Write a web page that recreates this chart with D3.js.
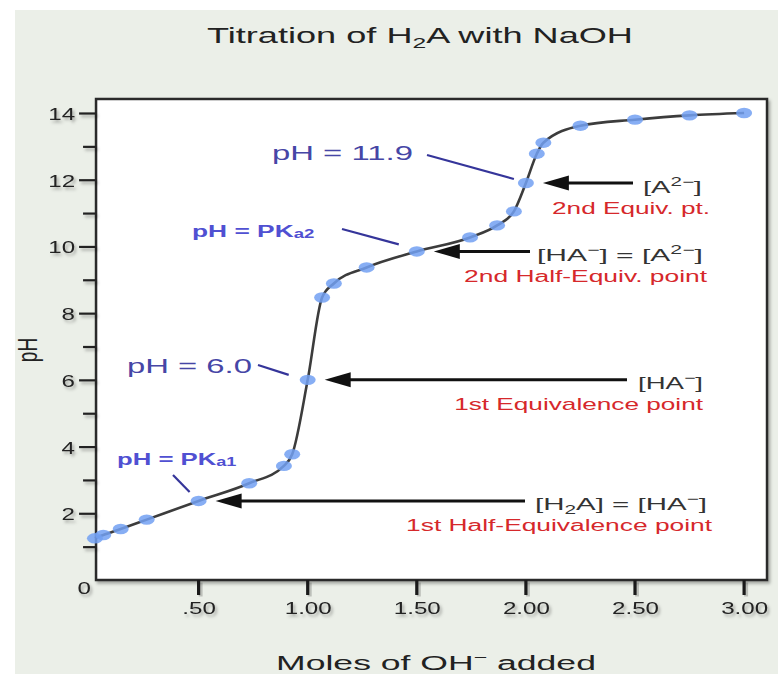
<!DOCTYPE html>
<html>
<head>
<meta charset="utf-8">
<script src="https://cdn.jsdelivr.net/npm/d3@7"></script>
<style>
  html, body { margin: 0; padding: 0; background: #fff; }
  svg { display: block; font-family: "Liberation Sans", Arial, Helvetica, sans-serif; }
</style>
</head>
<body>
<svg id="chart" width="778" height="674"></svg>
<script>
// Titration curve of a diprotic acid H2A with NaOH
const molesOH  = [0.025, 0.063, 0.143, 0.262, 0.5, 0.732, 0.891, 0.929, 1.0, 1.066, 1.12, 1.27, 1.5, 1.744, 1.868, 1.945, 2.0, 2.05, 2.08, 2.25, 2.5, 2.75, 3.0];
const pHValues = [1.25, 1.35, 1.53, 1.81, 2.37, 2.9, 3.42, 3.77, 6.0, 8.47, 8.89, 9.37, 9.85, 10.27, 10.63, 11.05, 11.9, 12.78, 13.11, 13.62, 13.8, 13.93, 14.0];

const yMajorTicks = [0, 2, 4, 6, 8, 10, 12, 14];
const yTickLabels = ["0", "2", "4", "6", "8", "10", "12", "14"];
const yMinorTicks = [1, 3, 5, 7, 9, 11, 13];
const xTickValues = [0.5, 1.0, 1.5, 2.0, 2.5, 3.0];
const xTickLabels = [".50", "1.00", "1.50", "2.00", "2.50", "3.00"];

// indices of the points that the black arrows point at
const arrowPointIdx = [4, 8, 12, 16];
// indices of the points that the blue callouts point at
const calloutPointIdx = [4, 8, 12, 16];

const svg = d3.select("#chart");

// soft drop shadow; a generous user-space region so thin tick lines keep it
const defs = svg.append("defs");
defs.append("filter").attr("id", "shadow")
  .attr("filterUnits", "userSpaceOnUse")
  .attr("x", -400).attr("y", -800).attr("width", 1600).attr("height", 1800)
  .append("feDropShadow")
  .attr("dx", 2).attr("dy", 2.5).attr("stdDeviation", 1.5)
  .attr("flood-color", "#000").attr("flood-opacity", 0.3);

// page background
svg.append("rect").attr("x", 15).attr("y", 10).attr("width", 763).attr("height", 664)
  .attr("fill", "#ebefe8");

const x = d3.scaleLinear().domain([0, 3]).range([89.5, 744.1]);
const y = d3.scaleLinear().domain([0, 14]).range([580, 113]);

const frame = { left: x(0.03), right: x(3.105), top: y(14.42), bottom: y(0) };

// horizontally stretched text, fitted to a given width
function fitText(parent, o, build) {
  const g = parent.append("g");
  const t = g.append("text")
    .attr("text-anchor", o.anchor || "start")
    .attr("font-size", o.size)
    .attr("font-weight", o.weight || "normal")
    .attr("fill", o.fill || "#222");
  build(t);
  const w = t.node().getBBox().width;
  const sx = o.width ? o.width / w : 1;
  g.attr("transform", `translate(${o.x},${o.y}) scale(${sx},1)`);
  return g;
}
function sup(t, s, size, shift) {
  t.append("tspan").attr("font-size", size).attr("dy", -shift).text(s);
}
function back(t, s, shift) {
  t.append("tspan").attr("dy", shift).text(s);
}

// plot frame
svg.append("rect")
  .attr("x", frame.left).attr("y", frame.top)
  .attr("width", frame.right - frame.left).attr("height", frame.bottom - frame.top)
  .attr("fill", "#fff").attr("stroke", "#2a2a2a").attr("stroke-width", 2.5)
  .attr("filter", "url(#shadow)");

// y axis: labelled major ticks and short minor ticks
const yAxis = svg.append("g").attr("transform", `translate(${frame.left},0)`)
  .attr("filter", "url(#shadow)")
  .call(d3.axisLeft(y).tickValues(yMajorTicks).tickSize(17).tickPadding(4)
    .tickFormat((d, i) => yTickLabels[i]));
yAxis.select(".domain").remove();
yAxis.selectAll(".tick line").attr("stroke", "#222").attr("stroke-width", 2.2)
  .filter(d => d === 0).remove();
yAxis.selectAll(".tick text")
  .attr("font-size", 17).attr("font-family", "Liberation Sans, Arial, sans-serif")
  .attr("fill", "#222").attr("x", 0)
  .attr("transform", d => d === 0 ? "translate(-5,8) scale(1.42,1)" : "translate(-21,1) scale(1.42,1)");

const yMinor = svg.append("g").attr("transform", `translate(${frame.left},0)`)
  .attr("filter", "url(#shadow)")
  .call(d3.axisLeft(y).tickValues(yMinorTicks).tickSize(13).tickFormat(""));
yMinor.select(".domain").remove();
yMinor.selectAll(".tick line").attr("stroke", "#222").attr("stroke-width", 2.2);

// x axis labels
const xAxis = svg.append("g").attr("transform", `translate(0,${frame.bottom})`)
  .attr("filter", "url(#shadow)")
  .call(d3.axisBottom(x).tickValues(xTickValues).tickSize(14).tickPadding(8)
    .tickFormat((d, i) => xTickLabels[i]));
xAxis.select(".domain").remove();
xAxis.selectAll(".tick line").remove();
xAxis.selectAll(".tick text")
  .attr("font-size", 17).attr("font-family", "Liberation Sans, Arial, sans-serif")
  .attr("fill", "#222").attr("x", 0)
  .attr("transform", "scale(1.42,1)");

// titration curve
const pts = molesOH.map((m, i) => [m, pHValues[i]]);
svg.append("path")
  .datum(pts)
  .attr("fill", "none").attr("stroke", "#3c3c3c").attr("stroke-width", 2.6)
  .attr("d", d3.line().x(d => x(d[0])).y(d => y(d[1])).curve(d3.curveMonotoneX));

svg.append("g").selectAll("ellipse")
  .data(pts).join("ellipse")
  .attr("cx", d => x(d[0])).attr("cy", d => y(d[1]))
  .attr("rx", 8).attr("ry", 5.2)
  .attr("fill", "#72a0f2").attr("fill-opacity", 0.85);

// title and axis titles
fitText(svg, { x: 420, y: 43, anchor: "middle", size: 22, width: 426, fill: "#222" }, t => {
  t.append("tspan").text("Titration of H");
  t.append("tspan").attr("font-size", 15).attr("dy", 5).text("2");
  t.append("tspan").attr("dy", -5).text("A with NaOH");
});

fitText(svg, { x: 436, y: 670, anchor: "middle", size: 20, width: 320, fill: "#222" }, t => {
  t.append("tspan").text("Moles of OH");
  sup(t, "\u2212", 13, 8);
  back(t, " added", 8);
});

{
  const g = svg.append("g").attr("transform", "translate(37,350) rotate(-90)");
  g.append("text").attr("text-anchor", "middle").attr("font-size", 19).attr("fill", "#222")
    .attr("transform", "scale(1,1.45)").text("pH");
}

// black arrows with bracket labels and red captions
const arrowTail = [525, 627, 530, 633];
const bracketX  = [535, 638, 537, 643];
const captionX  = [712, 703, 707, 710];
const bracketW  = [172, 65, 166, 59];
const captionW  = [307, 250, 244, 158];
const captions  = ["1st Half-Equivalence point", "1st Equivalence point", "2nd Half-Equiv. point", "2nd Equiv. pt."];
const bracketBuilders = [
  t => { t.append("tspan").text("[H"); t.append("tspan").attr("font-size", 12).attr("dy", 4).text("2");
         t.append("tspan").attr("dy", -4).text("A] = [HA"); sup(t, "\u2212", 12, 7); back(t, "]", 7); },
  t => { t.append("tspan").text("[HA"); sup(t, "\u2212", 12, 7); back(t, "]", 7); },
  t => { t.append("tspan").text("[HA"); sup(t, "\u2212", 12, 7); back(t, "] = [A", 7);
         sup(t, "2\u2212", 12, 7); back(t, "]", 7); },
  t => { t.append("tspan").text("[A"); sup(t, "2\u2212", 12, 7); back(t, "]", 7); }
];

arrowPointIdx.forEach((pi, k) => {
  const tipX = x(molesOH[pi]) + 17;
  const ay = y(pHValues[pi]);
  svg.append("line")
    .attr("x1", tipX + 20).attr("x2", arrowTail[k])
    .attr("y1", ay).attr("y2", ay)
    .attr("stroke", "#111").attr("stroke-width", 3);
  svg.append("path")
    .attr("d", `M${tipX},${ay} L${tipX + 26},${ay - 7.5} L${tipX + 26},${ay + 7.5} Z`)
    .attr("fill", "#111");
  fitText(svg, { x: bracketX[k], y: ay + 9.5, size: 17, width: bracketW[k], fill: "#333" }, bracketBuilders[k]);
  fitText(svg, { x: captionX[k], y: ay + 30.5, anchor: "end", size: 16, width: captionW[k], fill: "#d6282b" },
    t => t.text(captions[k]));
});

// blue callouts with leader lines
const calloutLabelPos = [[117, 465], [127, 373], [192, 237], [272, 160]];
const calloutLeaderStart = [[173, 475], [258, 365], [342, 229], [427, 155]];
const calloutLeaderOffset = [[-9, -9], [-19, -5], [-18, -7], [-12, -4]];
const calloutW = [120, 125, 123, 141];
const calloutBuilders = [
  t => { t.append("tspan").text("pH = PK"); t.append("tspan").attr("font-size", 12).attr("dy", 1).text("a1"); },
  t => t.text("pH = 6.0"),
  t => { t.append("tspan").text("pH = PK"); t.append("tspan").attr("font-size", 12).attr("dy", 1).text("a2"); },
  t => t.text("pH = 11.9")
];
const calloutBold = [true, false, true, false];

calloutPointIdx.forEach((pi, k) => {
  const px = x(molesOH[pi]), py = y(pHValues[pi]);
  svg.append("line")
    .attr("x1", calloutLeaderStart[k][0]).attr("y1", calloutLeaderStart[k][1])
    .attr("x2", px + calloutLeaderOffset[k][0]).attr("y2", py + calloutLeaderOffset[k][1])
    .attr("stroke", "#35359a").attr("stroke-width", 2.2);
  fitText(svg, {
    x: calloutLabelPos[k][0], y: calloutLabelPos[k][1],
    size: calloutBold[k] ? 17 : 21, weight: calloutBold[k] ? "bold" : "normal",
    width: calloutW[k], fill: calloutBold[k] ? "#5050d2" : "#4646a6"
  }, calloutBuilders[k]);
});

// x tick marks below the frame, drawn last so nothing sits over them
const xTickMarks = svg.append("g").attr("class", "x-ticks");
xTickMarks.selectAll("line.shade").data(xTickValues).join("line")
  .attr("class", "shade")
  .attr("x1", d => x(d) + 2).attr("x2", d => x(d) + 2)
  .attr("y1", frame.bottom + 2.5).attr("y2", frame.bottom + 16.5)
  .attr("stroke", "#000").attr("stroke-opacity", 0.2).attr("stroke-width", 4);
xTickMarks.selectAll("line.mark").data(xTickValues).join("line")
  .attr("class", "mark")
  .attr("x1", d => x(d)).attr("x2", d => x(d))
  .attr("y1", frame.bottom).attr("y2", frame.bottom + 15)
  .attr("stroke", "#1a1a1a").attr("stroke-width", 3.2);
</script>
</body>
</html>
